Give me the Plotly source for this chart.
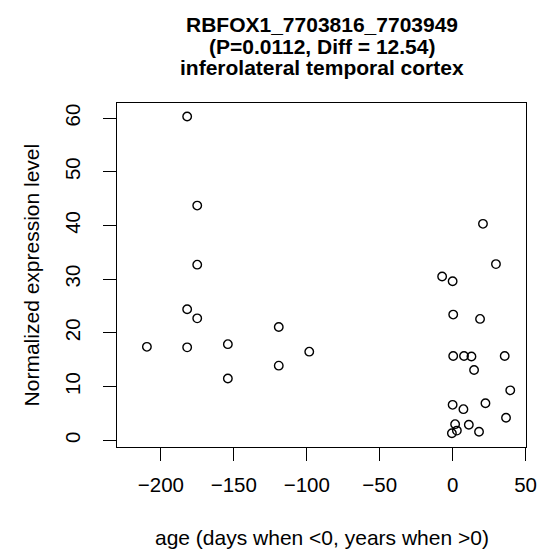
import plotly.graph_objects as go

# Data
age = [-182.0, -175.1, -175.1, -209.6, -182.0, -175.1, -182.0, -154.1, -154.1,
       -119.2, -119.2, -98.3,
       20.8, 29.7, -7.2, 0.0, 0.4, 18.8, 0.4, 7.8, 12.9, 35.7, 14.7, 39.5,
       0.0, 22.5, 7.4, 36.6, 1.7, 11.1, 18.1, 2.9, -0.5]
expr = [60.3, 43.7, 32.7, 17.4, 24.4, 22.7, 17.3, 17.9, 11.5,
        21.1, 13.9, 16.5,
        40.3, 32.8, 30.5, 29.6, 23.4, 22.6, 15.7, 15.7, 15.6, 15.7, 13.1, 9.3,
        6.6, 6.9, 5.8, 4.2, 3.0, 2.9, 1.6, 1.8, 1.3]

x_ticks = [-200, -150, -100, -50, 0, 50]
x_tick_labels = ["\u2212200", "\u2212150", "\u2212100", "\u221250", "0", "50"]
y_ticks = [0, 10, 20, 30, 40, 50, 60]
y_tick_labels = ["0", "10", "20", "30", "40", "50", "60"]

title_lines = ["RBFOX1_7703816_7703949", "(P=0.0112, Diff = 12.54)",
               "inferolateral temporal cortex"]
x_title = "age (days when <0, years when >0)"
y_title = "Normalized expression level"

FONT = "Liberation Sans, Arial, sans-serif"
OFF = 8  # page body margin in the browser
W, H = 549 - OFF, 555 - OFF
L, R, T, B = 116.7 - OFF, 13.3, 103.3 - OFF, 108

fig = go.Figure()
fig.add_trace(go.Scatter(
    x=age, y=expr, mode="markers",
    marker=dict(symbol="circle-open", size=8.5, color="black",
                line=dict(width=1.4, color="black")),
    showlegend=False, hoverinfo="x+y"))

axis_common = dict(showline=True, mirror=True, linecolor="black", linewidth=1.3,
                   ticks="outside", ticklen=13, tickwidth=1.3, tickcolor="black",
                   showgrid=False, zeroline=False,
                   tickfont=dict(family=FONT, size=20.5, color="black"))

fig.update_xaxes(range=[-230.1, 50.3], tickvals=x_ticks, ticktext=x_tick_labels,
                 ticklabelstandoff=6, **axis_common)
fig.update_yaxes(range=[-1.25, 62.8], tickvals=y_ticks, ticktext=y_tick_labels,
                 tickangle=-90, ticklabelstandoff=15, **axis_common)

plot_h = H - T - B
plot_w = W - L - R
def py(page_y):
    return (H - B - (page_y - OFF)) / plot_h
def px(page_x):
    return ((page_x - OFF) - L) / plot_w

annotations = []
for line, yc in zip(title_lines, [25, 46.5, 68]):
    annotations.append(dict(text="<b>%s</b>" % line, xref="paper", yref="paper",
                            x=0.5, y=py(yc), xanchor="center", yanchor="middle",
                            showarrow=False,
                            font=dict(family=FONT, size=21, color="black")))
annotations.append(dict(text=x_title, xref="paper", yref="paper", x=0.5, y=py(537),
                        xanchor="center", yanchor="middle", showarrow=False,
                        font=dict(family=FONT, size=21, color="black")))
annotations.append(dict(text=y_title, xref="paper", yref="paper",
                        x=px(29), y=0.5, textangle=-90,
                        xanchor="center", yanchor="middle", showarrow=False,
                        font=dict(family=FONT, size=21, color="black")))

fig.update_layout(width=W, height=H, margin=dict(l=L, r=R, t=T, b=B, pad=0),
                  paper_bgcolor="white", plot_bgcolor="white",
                  annotations=annotations, font=dict(family=FONT, color="black"))

fig.write_html("out.html")
